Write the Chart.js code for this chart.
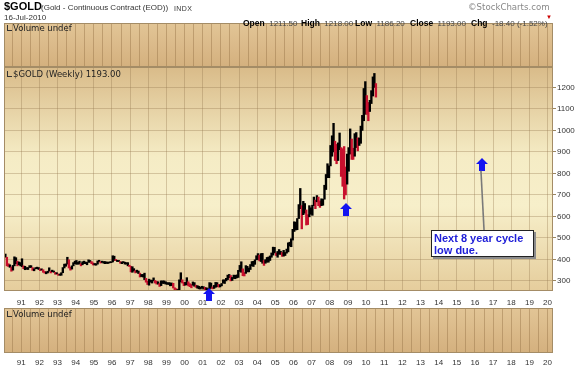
<!DOCTYPE html>
<html>
<head>
<meta charset="utf-8">
<script src="https://cdn.jsdelivr.net/npm/chart.js@4"></script>
<style>
  html, body { margin: 0; padding: 0; background: #fff; }
  #wrap { position: relative; width: 575px; height: 367px; overflow: hidden; font-family: Arial, "Liberation Sans", sans-serif; }
  canvas { position: absolute; left: 0; top: 0; }
  .t { position: absolute; white-space: nowrap; line-height: 1; z-index: 5; color: #333; }
  .b { font-weight: bold; color: #000; font-size: 8.5px; }
  .v { font-size: 8px; color: #444; }
  .lab { font-family: "DejaVu Sans", Verdana, sans-serif; font-size: 8.5px; color: #222; }
  .ico { display: inline-block; width: 4px; height: 5px; border-left: 1px solid #333; border-bottom: 1px solid #333; margin-right: 1px; vertical-align: 0; }
</style>
</head>
<body>
<div id="wrap">
  <canvas id="volTop" width="575" height="367"></canvas>
  <canvas id="volBot" width="575" height="367"></canvas>
  <canvas id="main" width="575" height="367"></canvas>

  <div class="t" style="left:4px;top:1px;font-weight:bold;font-size:11px;color:#000">$GOLD</div>
  <div class="t" style="left:41px;top:3.5px;font-size:8px">(Gold - Continuous Contract (EOD))</div>
  <div class="t" style="left:174px;top:4.5px;font-size:7px;letter-spacing:0.4px">INDX</div>
  <div class="t" style="left:4px;top:13.5px;font-size:8px">16-Jul-2010</div>
  <div class="t" style="left:468px;top:3px;font-family:'DejaVu Sans',sans-serif;font-size:8.6px;color:#888">©StockCharts.com</div>

  <div class="t" style="left:243px;top:13px"><span class="b">Open</span> <span class="v">1211.50</span></div>
  <div class="t" style="left:301px;top:13px"><span class="b">High</span> <span class="v">1218.00</span></div>
  <div class="t" style="left:355px;top:13px"><span class="b">Low</span> <span class="v">1186.20</span></div>
  <div class="t" style="left:410px;top:13px"><span class="b">Close</span> <span class="v">1193.00</span></div>
  <div class="t" style="left:471px;top:13px"><span class="b">Chg</span> <span class="v">-18.40 (-1.52%)</span></div>
  <div class="t" style="left:546px;top:14px;font-size:6px;color:#c00">▼</div>

  <div class="t lab" style="left:7px;top:24px"><span class="ico"></span>Volume undef</div>
  <div class="t lab" style="left:7px;top:70px"><span class="ico"></span>$GOLD (Weekly) 1193.00</div>
  <div class="t lab" style="left:7px;top:310px"><span class="ico"></span>Volume undef</div>
</div>

<script>
// monthly ranges, Jan 1990 .. Jul 2010
const startYear = 1990;
const lows = [
  400, 410, 370, 367, 363, 345, 350, 370, 380, 370, 375, 370,   // 1990
  366, 357, 352, 354, 353, 362, 362, 349, 347, 356, 357, 353,   // 1991
  348, 350, 340, 336, 333, 337, 345, 337, 343, 340, 331, 332,   // 1992
  326, 326, 326, 338, 360, 368, 378, 360, 350, 355, 370, 380,   // 1993
  377, 378, 378, 370, 375, 380, 380, 375, 386, 387, 380, 374,   // 1994
  374, 373, 378, 389, 383, 386, 382, 380, 381, 381, 384, 385,   // 1995
  388, 395, 394, 390, 390, 382, 380, 384, 378, 378, 370, 367,   // 1996
  342, 340, 346, 337, 340, 334, 318, 320, 318, 306, 294, 283,   // 1997
  280, 294, 290, 300, 290, 285, 285, 274, 278, 288, 288, 285,   // 1998
  284, 283, 277, 278, 267, 256, 252, 252, 255, 295, 290, 278,   // 1999
  280, 282, 277, 273, 268, 280, 275, 270, 266, 263, 262, 266,   // 2000
  262, 254, 256, 253, 262, 266, 263, 265, 270, 273, 271, 272,   // 2001
  277, 290, 288, 300, 306, 315, 300, 302, 311, 310, 314, 316,   // 2002
  344, 340, 324, 323, 335, 342, 342, 353, 370, 367, 377, 398,   // 2003
  399, 393, 390, 382, 372, 382, 387, 387, 395, 410, 420, 430,   // 2004
  418, 410, 424, 423, 414, 415, 418, 429, 435, 462, 459, 490,   // 2005
  530, 537, 538, 590, 636, 542, 608, 615, 560, 562, 598, 610,   // 2006
  605, 650, 636, 668, 650, 642, 650, 652, 680, 725, 780, 780,   // 2007
  835, 880, 900, 860, 845, 860, 910, 786, 740, 681, 700, 750,   // 2008
  810, 890, 865, 865, 880, 920, 905, 930, 940, 1000, 1045, 1075, // 2009
  1075, 1045, 1088, 1125, 1160, 1200, 1155                       // 2010
];
const highs = [
  423, 425, 410, 380, 375, 365, 372, 412, 408, 392, 388, 385,   // 1990
  403, 370, 368, 362, 362, 371, 371, 362, 356, 362, 364, 362,   // 1991
  356, 356, 352, 344, 342, 345, 361, 345, 350, 346, 340, 338,   // 1992
  332, 332, 338, 362, 378, 379, 410, 398, 364, 370, 385, 392,   // 1993
  395, 386, 392, 381, 389, 392, 388, 386, 398, 395, 390, 384,   // 1994
  381, 380, 393, 396, 390, 392, 390, 390, 388, 387, 389, 389,   // 1995
  417, 415, 400, 396, 395, 390, 388, 390, 387, 385, 385, 373,   // 1996
  368, 366, 357, 348, 350, 346, 336, 330, 330, 336, 312, 298,   // 1997
  308, 304, 303, 314, 302, 298, 296, 288, 300, 300, 300, 296,   // 1998
  292, 292, 291, 290, 289, 268, 264, 260, 305, 338, 305, 293,   // 1999
  293, 315, 296, 287, 283, 295, 292, 280, 278, 275, 271, 275,   // 2000
  273, 270, 268, 264, 292, 290, 272, 279, 293, 292, 284, 282,   // 2001
  288, 305, 305, 312, 327, 330, 325, 316, 327, 326, 328, 349,   // 2002
  372, 389, 356, 339, 371, 368, 360, 376, 390, 391, 398, 417,   // 2003
  427, 420, 427, 428, 395, 399, 409, 411, 416, 430, 457, 456,   // 2004
  430, 437, 446, 438, 432, 442, 432, 448, 477, 480, 496, 540,   // 2005
  575, 573, 590, 655, 730, 650, 670, 660, 630, 608, 650, 640,   // 2006
  652, 690, 676, 697, 690, 672, 682, 680, 745, 795, 845, 835,   // 2007
  930, 975, 1033, 950, 935, 942, 988, 920, 915, 925, 830, 890,  // 2008
  920, 1007, 960, 917, 985, 990, 965, 965, 1020, 1070, 1195, 1227, // 2009
  1162, 1130, 1140, 1185, 1249, 1265, 1218                       // 2010
];
const yearTicks = [1991, 1992, 1993, 1994, 1995, 1996, 1997, 1998, 1999, 2000,
  2001, 2002, 2003, 2004, 2005, 2006, 2007, 2008, 2009, 2010,
  2011, 2012, 2013, 2014, 2015, 2016, 2017, 2018, 2019, 2020];
const yearLabels = ['91', '92', '93', '94', '95', '96', '97', '98', '99', '00',
  '01', '02', '03', '04', '05', '06', '07', '08', '09', '10',
  '11', '12', '13', '14', '15', '16', '17', '18', '19', '20'];
const priceTicks = [300, 400, 500, 600, 700, 800, 900, 1000, 1100, 1200];

// annotation anchors (year, price)
const arrows = [[2001.32, 267], [2008.91, 663], [2016.4, 873]];
const noteLines = ['Next 8 year cycle', 'low due.'];

const X_MIN = 1990.05, X_MAX = 2020.3;
const Y_MIN = 253, Y_MAX = 1295;
const GRID = 'rgba(150,120,80,0.35)';
const FONT = { family: 'Arial, "Liberation Sans", sans-serif', size: 8 };

const bars = lows.map((lo, i) => ({ x: startYear + (i + 0.5) / 12, y: [lo, highs[i]] }));
// red where the month's midpoint fell noticeably from the month before
const barColors = lows.map((lo, i) => {
    if (i === 0) return '#000';
    const mid = (lo + highs[i]) / 2, prev = (lows[i - 1] + highs[i - 1]) / 2;
    return mid < prev * 0.985 ? '#c8102e' : '#000';
});
const minorTicks = [];
for (let v = 250; v <= 1250; v += 50) if (v >= Y_MIN) minorTicks.push(v);
const halfTicks = [1990.5];
yearTicks.forEach(v => { halfTicks.push(v); if (v + 0.5 < X_MAX) halfTicks.push(v + 0.5); });

// gradient background + frame for each panel
const panelBg = {
    id: 'panelBg',
    beforeDraw(chart, args, opts) {
        const { ctx, chartArea: a } = chart;
        const g = ctx.createLinearGradient(0, a.top, 0, a.bottom);
        opts.stops.forEach(([p, c]) => g.addColorStop(p, c));
        ctx.save();
        ctx.fillStyle = g;
        ctx.fillRect(a.left, a.top, a.right - a.left, a.bottom - a.top);
        ctx.restore();
    },
    afterDraw(chart) {
        const { ctx, chartArea: a } = chart;
        ctx.save();
        ctx.strokeStyle = '#a48c66';
        ctx.lineWidth = 1;
        ctx.strokeRect(Math.round(a.left) + 0.5, Math.round(a.top) + 0.5,
            Math.round(a.right - a.left) - 1, Math.round(a.bottom - a.top) - 1);
        ctx.restore();
    }
};

function drawArrow(ctx, cx, top) {
    ctx.beginPath();
    ctx.moveTo(cx, top);
    ctx.lineTo(cx + 6, top + 6);
    ctx.lineTo(cx + 3, top + 6);
    ctx.lineTo(cx + 3, top + 13);
    ctx.lineTo(cx - 3, top + 13);
    ctx.lineTo(cx - 3, top + 6);
    ctx.lineTo(cx - 6, top + 6);
    ctx.closePath();
    ctx.fill();
}

const notes = {
    id: 'notes',
    afterDraw(chart) {
        const { ctx, scales: { x, y } } = chart;
        ctx.save();
        ctx.fillStyle = '#1414f0';
        arrows.forEach(([t, p]) => drawArrow(ctx, Math.round(x.getPixelForValue(t)), Math.round(y.getPixelForValue(p))));

        // callout line from the last arrow down to the box
        ctx.strokeStyle = '#7a7a7a';
        ctx.lineWidth = 1.6;
        ctx.beginPath();
        ctx.moveTo(x.getPixelForValue(2016.33), y.getPixelForValue(812));
        ctx.lineTo(x.getPixelForValue(2016.5), y.getPixelForValue(537));
        ctx.stroke();

        const l = Math.round(x.getPixelForValue(2013.59)), r = Math.round(x.getPixelForValue(2019.28));
        const t = Math.round(y.getPixelForValue(537)), b = Math.round(y.getPixelForValue(410));
        ctx.fillStyle = '#8c8c8c';
        ctx.fillRect(l + 2, t + 2, r - l, b - t);
        ctx.fillStyle = '#fff';
        ctx.fillRect(l, t, r - l, b - t);
        ctx.strokeStyle = '#222';
        ctx.lineWidth = 1;
        ctx.strokeRect(l + 0.5, t + 0.5, r - l - 1, b - t - 1);

        ctx.fillStyle = '#2020d8';
        ctx.font = 'bold 11px Arial, "Liberation Sans", sans-serif';
        ctx.textBaseline = 'alphabetic';
        noteLines.forEach((s, i) => ctx.fillText(s, l + 3, t + 12 + i * 12));
        ctx.restore();
    }
};

const base = {
    responsive: false,
    animation: false,
    events: [],
};

new Chart(document.getElementById('main'), {
    type: 'bar',
    data: { datasets: [{ data: bars, backgroundColor: barColors, borderWidth: 0, barThickness: 1.7 }] },
    options: {
        ...base,
        layout: { padding: { top: 67, left: 4, right: 0, bottom: 56 } },
        plugins: {
            legend: { display: false },
            tooltip: { enabled: false },
            panelBg: { stops: [[0, '#d9bb89'], [0.4, '#f5ecc5'], [0.62, '#f7efca'], [1, '#e5cd9c']] }
        },
        scales: {
            x: {
                type: 'linear', min: X_MIN, max: X_MAX, offset: false,
                grid: { offset: false, color: GRID, drawTicks: false },
                border: { display: false },
                ticks: { padding: 7, font: FONT, color: '#333', autoSkip: false, maxRotation: 0,
                    callback: (v, i) => yearLabels[i] },
                afterBuildTicks: s => { s.ticks = yearTicks.map(v => ({ value: v })); },
                afterFit: s => { s.height = 20; }
            },
            y: {
                position: 'right', min: Y_MIN, max: Y_MAX,
                grid: {
                    color: c => (c.tick && c.tick.value % 100 === 0) ? GRID : 'rgba(0,0,0,0)',
                    tickColor: '#9a8660', tickLength: 3
                },
                border: { display: false },
                ticks: { padding: 1, font: FONT, color: '#333',
                    callback: v => priceTicks.includes(v) ? String(v) : '' },
                afterBuildTicks: s => { s.ticks = minorTicks.map(v => ({ value: v })); },
                afterFit: s => { s.width = 22; }
            }
        }
    },
    plugins: [panelBg, notes]
});

function volumePanel(id, top, withLabels) {
    new Chart(document.getElementById(id), {
        type: 'bar',
        data: { datasets: [] },
        options: {
            ...base,
            layout: { padding: { top: top, left: 4, right: 22, bottom: withLabels ? 0 : 367 - top - 44 } },
            plugins: {
                legend: { display: false },
                tooltip: { enabled: false },
                panelBg: { stops: [[0, '#e2c596'], [1, '#d4b07e']] }
            },
            scales: {
                x: {
                    type: 'linear', min: X_MIN, max: X_MAX, offset: false,
                    grid: { offset: false, color: 'rgba(150,115,70,0.45)', drawTicks: false },
                    border: { display: false },
                    ticks: { display: withLabels, padding: 5, font: FONT, color: '#333', autoSkip: false, maxRotation: 0,
                        callback: v => Number.isInteger(v) ? yearLabels[yearTicks.indexOf(v)] : '' },
                    afterBuildTicks: s => { s.ticks = halfTicks.map(v => ({ value: v })); },
                    afterFit: s => { s.height = withLabels ? 14 : 0; }
                },
                y: { display: false, min: 0, max: 1 }
            }
        },
        plugins: [panelBg]
    });
}
volumePanel('volTop', 23, false);
volumePanel('volBot', 308, true);
</script>
</body>
</html>
